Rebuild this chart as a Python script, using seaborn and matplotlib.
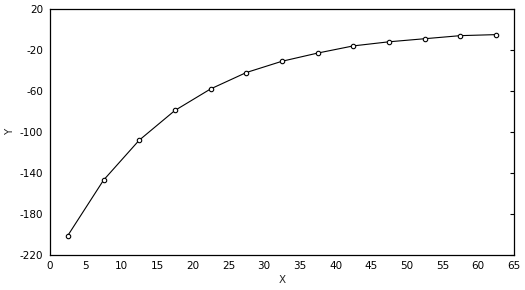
import pandas as pd
import matplotlib
matplotlib.use('Agg')
import matplotlib.pyplot as plt
import seaborn as sns

# data
x_vals = [2.5, 7.5, 12.5, 17.5, 22.5, 27.5, 32.5, 37.5, 42.5, 47.5, 52.5, 57.5, 62.5]
y_vals = [-201, -147, -108, -79, -58, -42, -31, -23, -16, -12, -9, -6, -5]
x_ticks = list(range(0, 70, 5))
y_ticks = list(range(-220, 21, 40))

df = pd.DataFrame({'X': x_vals, 'Y': y_vals})

sns.set_style('white')
plt.rcParams['font.family'] = ['DejaVu Sans']
plt.rcParams['axes.unicode_minus'] = False

fig = plt.figure(figsize=(5.25, 2.9), dpi=100)
ax = fig.add_axes([0.0952, 0.1207, 0.8838, 0.8483])

sns.lineplot(data=df, x='X', y='Y', ax=ax, color='black', linewidth=0.8,
             marker='o', markersize=3.2, markerfacecolor='white',
             markeredgecolor='black', markeredgewidth=0.8)

ax.set_xlim(0, 65)
ax.set_ylim(-220, 20)
ax.set_xticks(x_ticks)
ax.set_yticks(y_ticks)
ax.tick_params(labelsize=7.5, colors='black')
ax.tick_params(axis='x', length=0, pad=4)
ax.tick_params(axis='y', length=2, width=0.8, pad=3, right=True, direction='out')
for tk in ax.yaxis.get_major_ticks():
    tk.tick2line.set_marker(matplotlib.lines.TICKLEFT)
    tk.tick2line.set_markersize(3)
for s in ax.spines.values():
    s.set_color('black')
    s.set_linewidth(0.9)

ax.set_xlabel('X', fontsize=7.5, labelpad=3)
ax.set_ylabel('Y', fontsize=7.5)
ax.yaxis.set_label_coords(-0.075, 0.5)

fig.savefig('out.png', dpi=100)
